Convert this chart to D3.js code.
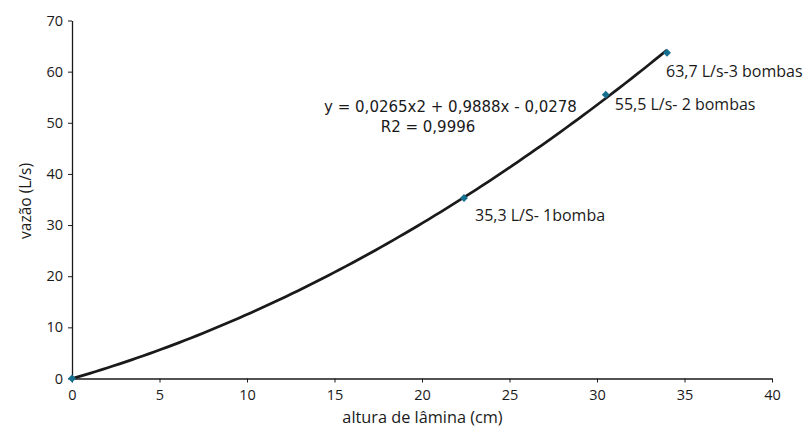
<!DOCTYPE html>
<html>
<head>
<meta charset="utf-8">
<script src="https://cdn.jsdelivr.net/npm/d3@7"></script>
<style>
  body { margin: 0; background: #fff; }
  text { font-family: "Open Sans", sans-serif; fill: #1a1a1a; }
  text.eq { font-family: "DejaVu Sans", sans-serif; }
</style>
</head>
<body>
<div id="vis"></div>
<script>
// measured points (altura, vazao) and their labels
var altura = [0, 22.4, 30.5, 34];
var vazao = [0, 35.3, 55.5, 63.7];
var pointLabels = ["", "35,3 L/S- 1bomba", "55,5 L/s- 2 bombas", "63,7 L/s-3 bombas"];

// polynomial trendline coefficients shown on the chart: a*x^2 + b*x + c
var trendCoef = [0.0265, 0.9888, -0.0278];
var trendRange = [0, 34];
var trendText = ["y = 0,0265x2 + 0,9888x - 0,0278", "R2 = 0,9996"];

var xTicks = [0, 5, 10, 15, 20, 25, 30, 35, 40];
var yTicks = [0, 10, 20, 30, 40, 50, 60, 70];

var w = 803, h = 428;
var margin = {left: 72, right: 31, top: 20.5, bottom: 49.5};

var svg = d3.select("#vis").append("svg")
    .attr("width", w)
    .attr("height", h);

var x = d3.scaleLinear().domain([0, 40]).range([margin.left, w - margin.right]);
var y = d3.scaleLinear().domain([0, 70]).range([h - margin.bottom, margin.top]);

// axes
var xAxis = svg.append("g")
    .attr("transform", "translate(0," + y(0) + ")")
    .call(d3.axisBottom(x).tickValues(xTicks).tickSize(4).tickPadding(7).tickSizeOuter(0));
var yAxis = svg.append("g")
    .attr("transform", "translate(" + x(0) + ",0)")
    .call(d3.axisLeft(y).tickValues(yTicks).tickSize(4).tickPadding(5).tickSizeOuter(0));

[xAxis, yAxis].forEach(function(g) {
  g.select(".domain").attr("stroke", "#1a1a1a").attr("stroke-width", 1.3);
  g.selectAll(".tick line").attr("stroke", "#1a1a1a");
  g.selectAll(".tick text").attr("font-size", 14.5).attr("font-family", null);
});

// trendline
var steps = d3.range(0, 101).map(function(i) {
  return trendRange[0] + (trendRange[1] - trendRange[0]) * i / 100;
});
var line = d3.line()
    .x(function(d) { return x(d); })
    .y(function(d) { return y(trendCoef[0] * d * d + trendCoef[1] * d + trendCoef[2]); });

svg.append("path")
    .datum(steps)
    .attr("d", line)
    .attr("fill", "none")
    .attr("stroke", "#1a1a1a")
    .attr("stroke-width", 2.7);

// markers
svg.selectAll("path.pt")
   .data(altura)
   .enter()
   .append("path")
   .attr("class", "pt")
   .attr("d", d3.symbol().type(d3.symbolDiamond2).size(40))
   .attr("transform", function(d, i) {
     return "translate(" + x(d) + "," + y(vazao[i]) + ")";
   })
   .attr("fill", "#16708f");

// point labels
var labelOffset = [[0, 0], [11, 23], [9, 15], [-1, 24]];
svg.selectAll("text.lbl")
   .data(altura)
   .enter()
   .append("text")
   .attr("class", "lbl")
   .attr("x", function(d, i) { return x(d) + labelOffset[i][0]; })
   .attr("y", function(d, i) { return y(vazao[i]) + labelOffset[i][1]; })
   .attr("font-size", 16)
   .text(function(d, i) { return pointLabels[i]; });

// equation
svg.append("text")
   .attr("class", "eq")
   .attr("x", 450.5)
   .attr("y", 112)
   .attr("text-anchor", "middle")
   .attr("font-size", 15)
   .text(trendText[0]);
svg.append("text")
   .attr("class", "eq")
   .attr("x", 428)
   .attr("y", 132)
   .attr("text-anchor", "middle")
   .attr("font-size", 15)
   .text(trendText[1]);

// axis titles
svg.append("text")
   .attr("x", 422.5)
   .attr("y", 423)
   .attr("text-anchor", "middle")
   .attr("font-size", 16.3)
   .text("altura de lâmina (cm)");
svg.append("text")
   .attr("transform", "translate(31,201) rotate(-90)")
   .attr("text-anchor", "middle")
   .attr("font-size", 15.5)
   .text("vazão (L/s)");
</script>
</body>
</html>
